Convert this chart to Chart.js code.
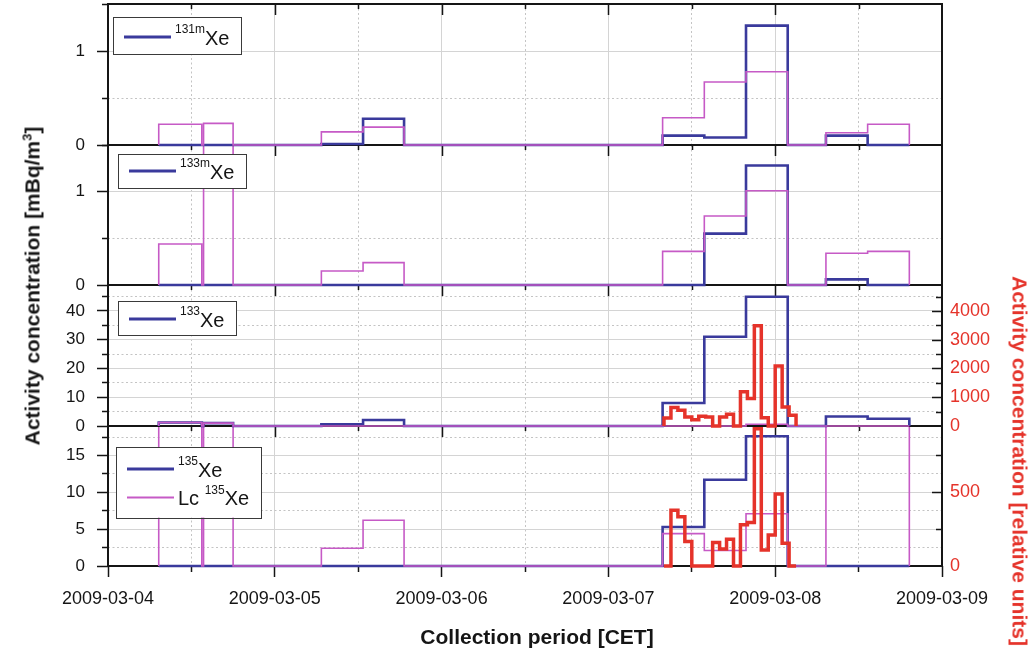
<!DOCTYPE html>
<html>
<head>
<meta charset="utf-8">
<title>Xenon activity concentrations</title>
<script src="https://cdn.jsdelivr.net/npm/chart.js@4.4.1/dist/chart.umd.min.js"></script>
<style>
  html, body { margin: 0; padding: 0; background: #fff; }
  #wrap { position: relative; width: 1034px; height: 648px; overflow: hidden;
          font-family: "Liberation Sans", Arial, sans-serif; }
  #wrap canvas { position: absolute; left: 0; top: 0; }
  .axis-title { position: absolute; font-size: 21px; font-weight: bold; white-space: nowrap; line-height: 1; }
  .axis-title .sup { font-size: 13px; position: relative; top: -0.6em; }
</style>
</head>
<body>
<div id="wrap">
  <canvas id="p4" width="1034" height="648"></canvas>
  <canvas id="p3" width="1034" height="648"></canvas>
  <canvas id="p2" width="1034" height="648"></canvas>
  <canvas id="p1" width="1034" height="648"></canvas>
  <div class="axis-title" style="left:32px;top:286px;transform:translate(-50%,-50%) rotate(-90deg);color:#151515">Activity concentration [mBq/m<span class="sup">3</span>]</div>
  <div class="axis-title" style="left:1020px;top:461px;transform:translate(-50%,-50%) rotate(90deg);color:#e5332a">Activity concentration [relative units]</div>
  <div class="axis-title" style="left:537px;top:636px;transform:translate(-50%,-50%);color:#151515">Collection period [CET]</div>
</div>
<script>
// collection periods of the samples, hours after 2009-03-04 00:00 CET
const binStart = [7.3, 13.75, 30.7, 36.7, 79.8, 85.8, 91.8, 103.3, 109.3];
const binEnd   = [13.5, 18.0, 36.7, 42.6, 85.8, 91.8, 97.8, 109.3, 115.3];

// measured activity (blue) and Lc (magenta), mBq/m3
const xe131m   = [0, 0, 0.01, 0.28, 0.10, 0.08, 1.27, 0.10, 0];
const xe131mLc = [0.22, 0.23, 0.14, 0.19, 0.29, 0.67, 0.78, 0.13, 0.22];
const xe133m   = [0, 0, 0, 0, 0, 0.55, 1.28, 0.06, 0];
const xe133mLc = [0.44, 2.5, 0.15, 0.24, 0.36, 0.74, 1.01, 0.34, 0.36];
const xe133    = [1.2, 1.0, 0.6, 2.1, 8.0, 31.0, 44.9, 3.3, 2.5];
const xe133Lc  = [1.2, 1.0, 0, 0, 0, 0, 0.6, 0, 0];
const xe135    = [0, 0, 0, 0, 5.3, 11.7, 17.6, 0, 0];
const xe135Lc  = [25, 25, 2.4, 6.2, 4.4, 2.1, 7.1, 25, 25];

// hourly model values (relative units), first hour starts 2009-03-07 08:00
const modelStart = 80;
const model133 = [280, 640, 547, 314, 221, 337, 314, 0, 314, 407, 0, 1186, 953, 3488, 291, 0, 2081, 663, 372];
const model135 = [0, 378, 334, 167, 0, 0, 0, 160, 115, 182, 0, 280, 295, 932, 108, 210, 488, 155, 0];

// right axis ticks (relative units)
const right133Ticks = [0, 500, 1000, 1500, 2000, 2500, 3000, 3500, 4000, 4500];
const right135Ticks = [0, 250, 500, 750];

const BLUE = '#3a3a9c', MAGENTA = '#c65ac6', RED = '#e5332a', INK = '#151515';
const GRID = '#d4d4d4', GRID_MINOR = '#c4c4c4';
const FONT = '"Liberation Sans", Arial, sans-serif';

Chart.defaults.font.family = FONT;
Chart.defaults.color = INK;

const modelHours = model133.map((v, i) => modelStart + i);
const modelEnds = model133.map((v, i) => modelStart + i + 1);

// outline of a histogram: drops to zero between separated bins
function histPoints(starts, ends, values) {
  const pts = [{ x: starts[0], y: 0 }];
  for (let i = 0; i < values.length; i++) {
    pts.push({ x: starts[i], y: values[i] });
    if (i === values.length - 1 || ends[i] < starts[i + 1] - 1e-6) {
      pts.push({ x: ends[i], y: 0 });
    }
  }
  return pts;
}

function isMajor(v, major) {
  const r = v / major;
  return Math.abs(r - Math.round(r)) < 1e-6;
}

function dayLabel(h) {
  return new Date(Date.UTC(2009, 2, 4) + h * 3600000).toISOString().slice(0, 10);
}

const step = (data, color, width, axis) => ({
  data: data, borderColor: color, borderWidth: width, yAxisID: axis,
  stepped: 'before', pointRadius: 0, fill: false,
  borderJoinStyle: 'miter', borderCapStyle: 'butt',
  clip: { left: 3, right: 3, top: 0, bottom: 4 }
});

// frame, inward ticks on top/right edges, and legend with superscripts
const panelDecor = {
  id: 'panelDecor',
  beforeDatasetsDraw(chart, args, opts) {
    const { ctx, chartArea: a, scales } = chart;
    ctx.save();
    ctx.strokeStyle = INK;
    ctx.lineWidth = 1.5;
    scales.x.ticks.forEach(t => {
      if (t.value <= scales.x.min || t.value >= scales.x.max) return;
      const px = Math.round(scales.x.getPixelForValue(t.value)) + 0.5;
      const len = t.value % 24 === 0 ? 11 : 5;
      ctx.beginPath(); ctx.moveTo(px, a.top); ctx.lineTo(px, a.top + len); ctx.stroke();
    });
    const yr = scales.y2;
    if (yr) {
      yr.ticks.forEach(t => {
        if (t.value <= yr.min || t.value >= yr.max) return;
        const py = Math.round(yr.getPixelForValue(t.value)) + 0.5;
        const len = isMajor(t.value, opts.rMajor) ? 10 : 6;
        ctx.beginPath(); ctx.moveTo(a.right, py); ctx.lineTo(a.right - len, py); ctx.stroke();
      });
    }
    ctx.lineWidth = 2;
    ctx.strokeRect(a.left, a.top, a.right - a.left, a.bottom - a.top);
    ctx.restore();
  },
  afterDraw(chart, args, opts) {
    const { ctx, chartArea: a } = chart;
    const lg = opts.legend;
    const big = '20px ' + FONT, small = '12px ' + FONT;
    ctx.save();
    let textW = 0;
    lg.entries.forEach(e => {
      ctx.font = big;
      let w = ctx.measureText(e.pre + e.base).width;
      ctx.font = small;
      w += ctx.measureText(e.sup).width;
      textW = Math.max(textW, w);
    });
    const x0 = a.left + lg.x, y0 = a.top + lg.y;
    const w = 11 + 47 + 4 + textW + 12;
    const h = lg.rowTop + (lg.entries.length - 1) * lg.rowGap + lg.rowBottom;
    ctx.fillStyle = '#fff';
    ctx.fillRect(x0, y0, w, h);
    ctx.strokeStyle = '#3a3a3a';
    ctx.lineWidth = 1;
    ctx.strokeRect(Math.round(x0) + 0.5, Math.round(y0) + 0.5, Math.round(w), Math.round(h));
    lg.entries.forEach((e, i) => {
      const cy = y0 + lg.rowTop + i * lg.rowGap;
      ctx.strokeStyle = e.color;
      ctx.lineWidth = e.width;
      ctx.beginPath(); ctx.moveTo(x0 + 11, cy); ctx.lineTo(x0 + 58, cy); ctx.stroke();
      let tx = x0 + 62;
      const base = cy + 7.5;
      ctx.fillStyle = INK;
      ctx.textAlign = 'left';
      ctx.textBaseline = 'alphabetic';
      if (e.pre) {
        ctx.font = big; ctx.fillText(e.pre, tx, base); tx += ctx.measureText(e.pre).width;
      }
      ctx.font = small; ctx.fillText(e.sup, tx, base - 11.5); tx += ctx.measureText(e.sup).width;
      ctx.font = big; ctx.fillText(e.base, tx, base);
    });
    ctx.restore();
  }
};

const PLOT_LEFT = 108, PLOT_RIGHT = 942, Y_W = 60, R_W = 80, X_H = 50;

const panels = [
  { id: 'p1', top: 4, bottom: 145, yMax: 1.5, yStep: 0.5, yMajor: 1,
    sets: [step(histPoints(binStart, binEnd, xe131mLc), MAGENTA, 1.6, 'y'),
           step(histPoints(binStart, binEnd, xe131m), BLUE, 2.6, 'y')],
    legend: { x: 5, y: 13, rowTop: 20, rowGap: 28.6, rowBottom: 17,
              entries: [{ pre: '', sup: '131m', base: 'Xe', color: BLUE, width: 3 }] } },
  { id: 'p2', top: 145, bottom: 285, yMax: 1.5, yStep: 0.5, yMajor: 1,
    sets: [step(histPoints(binStart, binEnd, xe133mLc), MAGENTA, 1.6, 'y'),
           step(histPoints(binStart, binEnd, xe133m), BLUE, 2.6, 'y')],
    legend: { x: 10, y: 9, rowTop: 17, rowGap: 28.6, rowBottom: 17,
              entries: [{ pre: '', sup: '133m', base: 'Xe', color: BLUE, width: 3 }] } },
  { id: 'p3', top: 285, bottom: 426, yMax: 49, yStep: 5, yMajor: 10,
    rMax: 4900, rTicks: right133Ticks, rMajor: 1000,
    sets: [step(histPoints(modelHours, modelEnds, model133), RED, 3.5, 'y2'),
           step(histPoints(binStart, binEnd, xe133Lc), MAGENTA, 1.6, 'y'),
           step(histPoints(binStart, binEnd, xe133), BLUE, 2.6, 'y')],
    legend: { x: 10, y: 16, rowTop: 18, rowGap: 28.6, rowBottom: 16,
              entries: [{ pre: '', sup: '133', base: 'Xe', color: BLUE, width: 3 }] } },
  { id: 'p4', top: 426, bottom: 566, yMax: 19, yStep: 2.5, yMajor: 5,
    rMax: 950, rTicks: right135Ticks, rMajor: 500, bottomAxis: true,
    sets: [step(histPoints(modelHours, modelEnds, model135), RED, 3.5, 'y2'),
           step(histPoints(binStart, binEnd, xe135Lc), MAGENTA, 1.6, 'y'),
           step(histPoints(binStart, binEnd, xe135), BLUE, 2.6, 'y')],
    legend: { x: 8, y: 21, rowTop: 22, rowGap: 28.6, rowBottom: 20,
              entries: [{ pre: '', sup: '135', base: 'Xe', color: BLUE, width: 3 },
                        { pre: 'Lc ', sup: '135', base: 'Xe', color: MAGENTA, width: 2 }] } }
];

panels.forEach(p => {
  const hasR = p.rMax !== undefined;
  const scales = {
    x: {
      type: 'linear', min: 0, max: 120,
      ticks: {
        stepSize: 12, autoSkip: false, maxRotation: 0, minRotation: 0,
        display: !!p.bottomAxis, padding: 11, color: INK, font: { size: 18 },
        callback: v => (v % 24 === 0 ? dayLabel(v) : '')
      },
      grid: {
        color: c => (c.tick && c.tick.value % 24 === 0 ? GRID : GRID_MINOR),
        lineWidth: 1,
        drawTicks: !!p.bottomAxis, tickLength: 11, tickColor: INK, tickWidth: 1.5,
        tickBorderDash: c => (c.tick && c.tick.value % 24 !== 0 ? [6, 50] : [])
      },
      border: { display: false, dash: c => (c.tick && c.tick.value % 24 !== 0 ? [2, 2.5] : []) },
      afterFit: s => { s.height = p.bottomAxis ? X_H : 0; s.paddingLeft = 0; s.paddingRight = 0; }
    },
    y: {
      position: 'left', min: 0, max: p.yMax,
      ticks: {
        stepSize: p.yStep, includeBounds: false, autoSkip: false, padding: 12,
        color: INK, font: { size: 17 },
        callback: v => (isMajor(v, p.yMajor) ? v : '')
      },
      grid: {
        color: c => (c.tick && isMajor(c.tick.value, p.yMajor) ? GRID : GRID_MINOR),
        lineWidth: 1,
        tickLength: 11, tickColor: INK, tickWidth: 1.5,
        tickBorderDash: c => (c.tick && !isMajor(c.tick.value, p.yMajor) ? [0, 5, 6, 50] : [])
      },
      border: { display: false, dash: c => (c.tick && !isMajor(c.tick.value, p.yMajor) ? [2, 2.5] : []) },
      afterFit: s => { s.width = Y_W; s.paddingTop = 0; s.paddingBottom = 0; }
    }
  };
  if (hasR) {
    scales.y2 = {
      axis: 'y', type: 'linear', position: 'right', min: 0, max: p.rMax,
      afterBuildTicks: s => { s.ticks = p.rTicks.map(v => ({ value: v })); },
      ticks: {
        autoSkip: false, padding: 8,
        color: RED, font: { size: 18 },
        callback: v => (isMajor(v, p.rMajor) ? v : '')
      },
      grid: { drawOnChartArea: false, drawTicks: false },
      border: { display: false },
      afterFit: s => { s.width = R_W; s.paddingTop = 0; s.paddingBottom = 0; }
    };
  }
  new Chart(document.getElementById(p.id), {
    type: 'line',
    data: { datasets: p.sets },
    options: {
      responsive: false,
      animation: false,
      events: [],
      layout: {
        padding: {
          left: PLOT_LEFT - Y_W,
          right: 1034 - PLOT_RIGHT - (hasR ? R_W : 0),
          top: p.top,
          bottom: 648 - p.bottom - (p.bottomAxis ? X_H : 0)
        }
      },
      scales: scales,
      plugins: {
        legend: { display: false },
        tooltip: { enabled: false },
        panelDecor: { legend: p.legend, rMajor: p.rMajor || 1 }
      }
    },
    plugins: [panelDecor]
  });
});
</script>
</body>
</html>
